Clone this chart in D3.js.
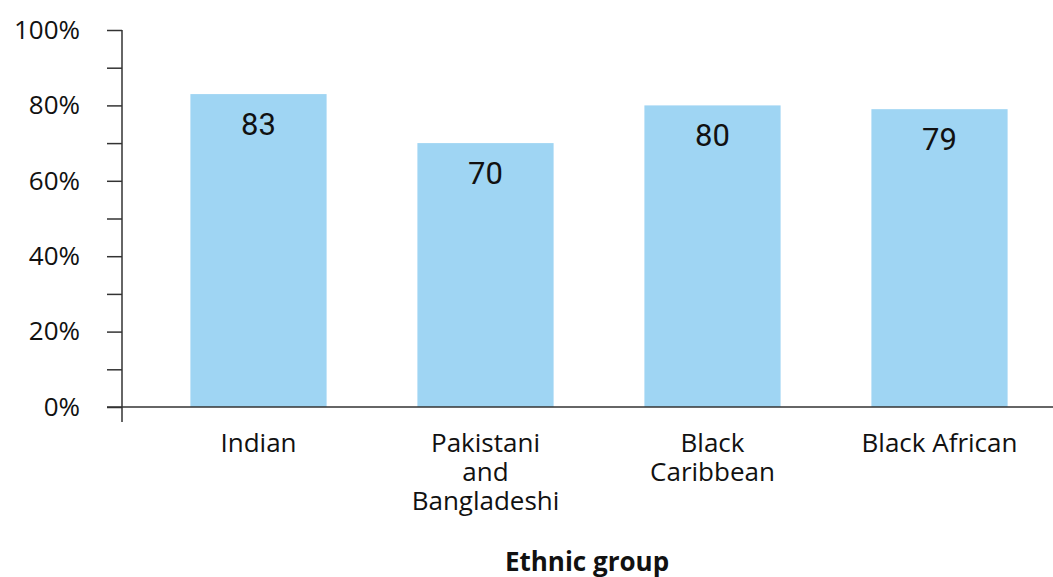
<!DOCTYPE html>
<html><head><meta charset="utf-8">
<script src="https://cdn.jsdelivr.net/npm/d3@7"></script>
<style>
body{margin:0;background:#fff;}
svg text{font-family:"Open Sans","Noto Sans",sans-serif;fill:#111;}
</style></head>
<body>
<svg id="c" width="1053" height="577"></svg>
<script>
const categories = [["Indian"], ["Pakistani","and","Bangladeshi"], ["Black","Caribbean"], ["Black African"]];
const values = [83, 70, 80, 79];
const yTicks = [0, 20, 40, 60, 80, 100];
const yMinorTicks = [10, 30, 50, 70, 90];
const xTitle = "Ethnic group";

const svg = d3.select("#c");
const keys = categories.map(c => c.join(" "));
const x = d3.scaleBand().domain(keys).range([145, 1053]).paddingInner(0.4).paddingOuter(0.2);
const y = d3.scaleLinear().domain([0, 100]).range([407, 30]);

// bars
svg.selectAll("rect.bar").data(values).enter().append("rect")
  .attr("x", (d,i) => x(keys[i])).attr("width", x.bandwidth())
  .attr("y", d => y(d)).attr("height", d => y(0) - y(d))
  .attr("fill", "#9fd5f3");

// value labels
svg.selectAll("text.val").data(values).enter().append("text")
  .attr("x", (d,i) => x(keys[i]) + x.bandwidth()/2)
  .attr("y", d => y(d) + 41)
  .attr("text-anchor", "middle")
  .style("font-family", "Roboto, sans-serif")
  .style("font-size", "31px")
  .text(d => d);

// y axis
const yAxis = d3.axisLeft(y).tickValues(yTicks.concat(yMinorTicks).sort((a,b)=>a-b))
  .tickSize(15).tickFormat(d => yTicks.includes(d) ? d + "%" : "");
const gy = svg.append("g").attr("transform", "translate(122,0)").call(yAxis);
gy.select(".domain").remove();
gy.selectAll(".tick line").attr("stroke", "#333").attr("stroke-width", 1.5);
gy.selectAll(".tick text").attr("x", -42).style("font-size", "26px").attr("fill", "#111");
svg.append("line").attr("x1", 122).attr("x2", 122).attr("y1", y(100)).attr("y2", 422)
  .attr("stroke", "#333").attr("stroke-width", 1.5);

// x axis
svg.append("line").attr("x1", 107).attr("x2", 1053).attr("y1", y(0)).attr("y2", y(0))
  .attr("stroke", "#333").attr("stroke-width", 1.5);

const xl = svg.selectAll("text.xl").data(categories).enter().append("text")
  .attr("text-anchor", "middle").style("font-size", "26px")
  .attr("transform", (d,i) => `translate(${x(keys[i]) + x.bandwidth()/2},452)`);
xl.selectAll("tspan").data(d => d).enter().append("tspan")
  .attr("x", 0).attr("dy", (d,i) => i === 0 ? 0 : 29).text(d => d);

svg.append("text").attr("x", 587).attr("y", 571).attr("text-anchor", "middle")
  .style("font-size", "26px").style("font-weight", "bold").text(xTitle);
</script>
</body></html>
